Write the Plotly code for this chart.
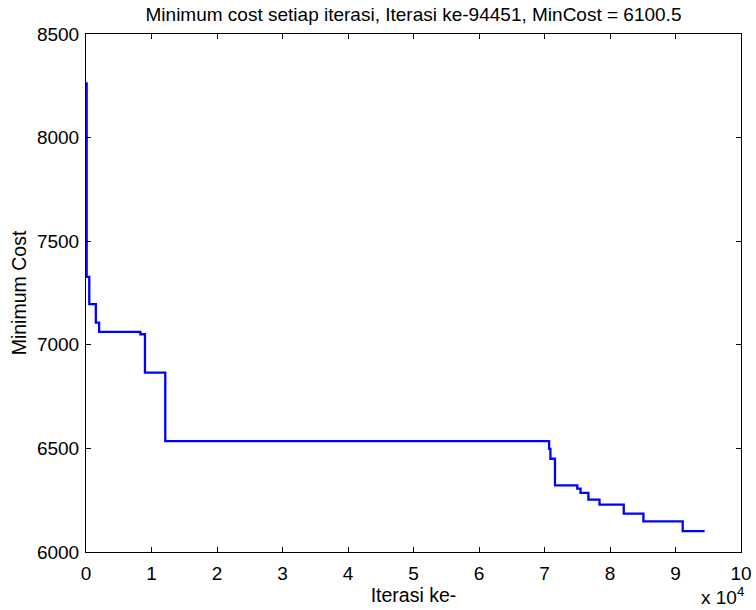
import plotly.graph_objects as go

iterations = [1, 100, 500, 1500, 2000, 8300, 9000, 12100, 70700, 70900, 71600,
              75000, 75500, 76700, 78400, 82100, 85100, 91100, 94451]
min_cost = [8262, 7328, 7196, 7107, 7062, 7051, 6866, 6535, 6498, 6450, 6322,
            6306, 6285, 6253, 6229, 6185, 6148, 6100.5, 6100.5]
x_tick_vals = [0, 10000, 20000, 30000, 40000, 50000, 60000, 70000, 80000, 90000, 100000]
x_tick_text = ["0", "1", "2", "3", "4", "5", "6", "7", "8", "9", "10"]
y_tick_vals = [6000, 6500, 7000, 7500, 8000, 8500]

FONT = "Liberation Sans, Arial, sans-serif"
FS = 19

fig = go.Figure()
fig.add_trace(go.Scatter(x=iterations, y=min_cost, mode="lines",
                         line=dict(color="#0000ff", width=2.3, shape="hv"),
                         showlegend=False))

fig.update_layout(
    width=756, height=610,
    margin=dict(l=86, r=15, t=34, b=58),
    paper_bgcolor="white", plot_bgcolor="white",
    font=dict(family=FONT, size=FS, color="black"),
    title=dict(text="Minimum cost setiap iterasi, Iterasi ke-94451, MinCost = 6100.5",
               x=0.5, xref="paper", xanchor="center",
               y=1 - 14 / 610, yref="container", yanchor="middle",
               font=dict(size=19), automargin=False),
    xaxis=dict(range=[0, 100000], tickvals=x_tick_vals, ticktext=x_tick_text,
               ticks="inside", ticklen=5, tickcolor="black", showline=True,
               linecolor="black", linewidth=1, mirror="ticks", showgrid=False,
               zeroline=False, automargin=False, ticklabelstandoff=4,
               title=dict(text="Iterasi ke-", standoff=4, font=dict(size=19.5))),
    yaxis=dict(range=[6000, 8500], tickvals=y_tick_vals,
               ticks="inside", ticklen=5, tickcolor="black", showline=True,
               linecolor="black", linewidth=1, mirror="ticks", showgrid=False,
               zeroline=False, automargin=False, ticklabelstandoff=2,
               title=dict(text="Minimum Cost", standoff=5, font=dict(size=19.5))),
)
fig.add_annotation(text="x 10<sup>4</sup>", xref="paper", yref="paper",
                   x=1.007, y=-0.084, xanchor="right", yanchor="middle",
                   showarrow=False, font=dict(size=FS))

fig.write_html("out.html", config={"displayModeBar": False},
               post_script="document.body.style.margin='0';document.body.style.padding='0';")
